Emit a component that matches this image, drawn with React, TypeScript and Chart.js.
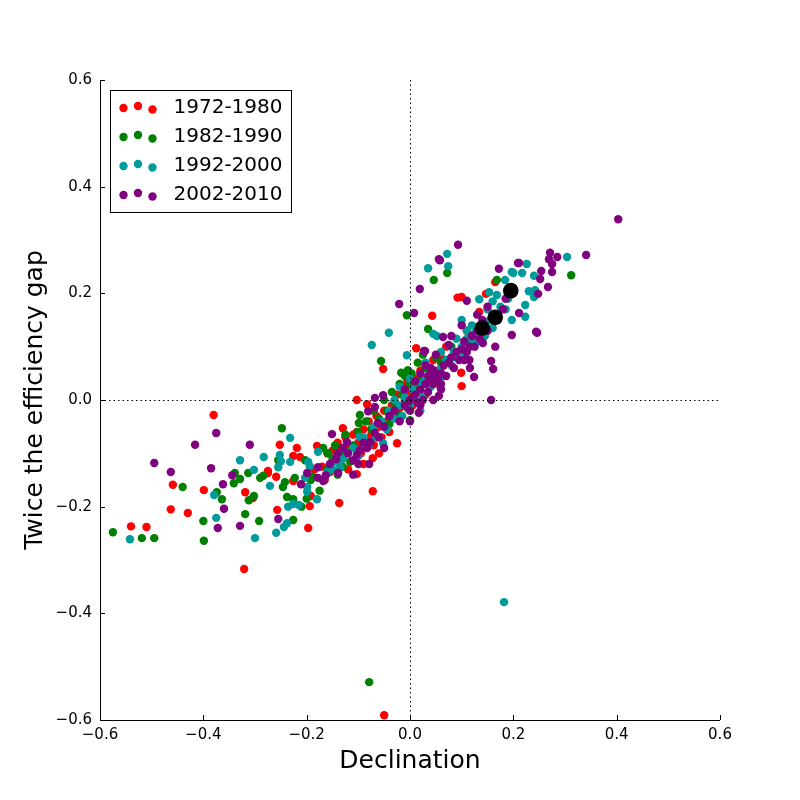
import { useEffect, useRef } from "react";
import { Chart, registerables } from "chart.js";

Chart.register(...registerables);

const FONT = '"DejaVu Sans", sans-serif';

const seriesLabels = ["1972-1980", "1982-1990", "1992-2000", "2002-2010"];
const seriesColors = ["#ff0000", "#008000", "#009b9b", "#800080"];
const axisTicks = [-0.6, -0.4, -0.2, 0, 0.2, 0.4, 0.6];
const xTitle = "Declination";
const yTitle = "Twice the efficiency gap";

// [declination, twice the efficiency gap]
const pts1972: [number, number][] = [
  [-0.54, -0.237], [-0.51, -0.238], [-0.459, -0.159], [-0.463, -0.205], [-0.43, -0.212],
  [-0.38, -0.028], [-0.399, -0.169], [-0.321, -0.317], [-0.319, -0.173], [-0.304, -0.184],
  [-0.275, -0.137], [-0.252, -0.084], [-0.219, -0.09], [-0.226, -0.105], [-0.213, -0.107],
  [-0.275, -0.133], [-0.259, -0.144], [-0.18, -0.086], [-0.135, -0.09], [-0.226, -0.152],
  [-0.192, -0.18], [-0.194, -0.199], [-0.137, -0.193], [-0.257, -0.206], [-0.197, -0.24],
  [-0.072, -0.171], [-0.103, -0.139], [-0.072, -0.109], [-0.103, -0.06], [-0.103, 0.0],
  [-0.083, -0.008], [-0.13, -0.053], [-0.05, -0.591], [-0.025, -0.081],
  [0.1, 0.193], [0.092, 0.192], [0.043, 0.158], [0.012, 0.097], [0.134, 0.165],
  [0.165, 0.221], [0.147, 0.199], [-0.052, 0.058], [0.1, 0.026], [0.099, 0.051],
  [0.07, 0.1], [0.085, 0.085], [0.11, 0.13], [0.06, 0.08],
  [-0.17, -0.125], [-0.16, -0.1], [-0.155, -0.135], [-0.15, -0.095], [-0.145, -0.115],
  [-0.14, -0.08], [-0.13, -0.105], [-0.125, -0.07], [-0.12, -0.09], [-0.115, -0.115],
  [-0.11, -0.065], [-0.1, -0.08], [-0.095, -0.1], [-0.09, -0.055], [-0.085, -0.075],
  [-0.08, -0.04], [-0.075, -0.065], [-0.07, -0.085], [-0.065, -0.03], [-0.06, -0.05],
  [-0.055, -0.07], [-0.05, -0.02], [-0.045, -0.04], [-0.04, -0.06], [-0.035, -0.01],
  [-0.03, -0.03], [-0.025, 0.01], [-0.02, -0.015], [-0.015, 0.025], [-0.01, 0.0],
  [-0.005, 0.035], [0.0, 0.015], [0.005, -0.01], [0.01, 0.04], [0.015, 0.02],
  [0.02, 0.055], [0.025, 0.035], [0.03, 0.01], [0.035, 0.06], [0.04, 0.04],
  [0.045, 0.075], [0.05, 0.055], [0.055, 0.03], [0.065, 0.065], [0.075, 0.075],
  [-0.185, -0.13], [-0.165, -0.15], [-0.12, -0.13], [-0.09, -0.12], [-0.06, -0.1],
];

const pts1982: [number, number][] = [
  [-0.575, -0.248], [-0.519, -0.259], [-0.495, -0.259], [-0.44, -0.163], [-0.399, -0.264],
  [-0.4, -0.227], [-0.374, -0.173], [-0.364, -0.186], [-0.339, -0.137], [-0.341, -0.156],
  [-0.329, -0.148], [-0.313, -0.137], [-0.319, -0.214], [-0.292, -0.227], [-0.312, -0.188],
  [-0.302, -0.18], [-0.29, -0.146], [-0.284, -0.142], [-0.248, -0.053], [-0.255, -0.113],
  [-0.242, -0.154], [-0.246, -0.163], [-0.223, -0.146], [-0.238, -0.182], [-0.226, -0.186],
  [-0.226, -0.225], [-0.168, -0.09], [-0.159, -0.1], [-0.203, -0.113], [-0.188, -0.144],
  [-0.192, -0.15], [-0.12, -0.097], [-0.116, -0.116], [-0.097, -0.028], [-0.099, -0.043],
  [-0.079, -0.529], [-0.056, 0.073], [-0.017, 0.051], [-0.004, 0.056], [0.072, 0.238],
  [0.046, 0.225], [0.035, 0.133], [0.168, 0.225], [-0.006, 0.159], [0.312, 0.234],
  [-0.2, -0.185], [-0.175, -0.17], [-0.21, -0.2],
  [-0.15, -0.11], [-0.145, -0.085], [-0.135, -0.1], [-0.125, -0.065], [-0.11, -0.085],
  [-0.1, -0.06], [-0.09, -0.075], [-0.085, -0.04], [-0.075, -0.055], [-0.07, -0.02],
  [-0.06, -0.035], [-0.05, 0.0], [-0.045, -0.02], [-0.035, 0.015], [-0.03, -0.005],
  [-0.02, 0.03], [-0.015, 0.01], [-0.01, 0.045], [0.0, 0.03], [0.003, 0.05],
  [0.01, 0.02], [0.02, 0.04], [0.03, 0.06], [0.04, 0.05], [0.05, 0.08],
  [0.06, 0.07], [0.08, 0.1], [0.0, -0.038], [-0.005, -0.015], [-0.02, -0.03],
  [-0.13, -0.125], [-0.14, -0.14], [-0.16, -0.13], [0.025, 0.085], [0.015, 0.07],
  [-0.04, -0.045], [-0.065, -0.07],
];

const pts1992: [number, number][] = [
  [-0.542, -0.261], [-0.379, -0.178], [-0.375, -0.221], [-0.329, -0.113], [-0.302, -0.131],
  [-0.283, -0.107], [-0.3, -0.259], [-0.271, -0.161], [-0.232, -0.071], [-0.252, -0.103],
  [-0.25, -0.115], [-0.255, -0.126], [-0.232, -0.116], [-0.197, -0.116], [-0.194, -0.124],
  [-0.203, -0.146], [-0.199, -0.163], [-0.199, -0.172], [-0.236, -0.2], [-0.226, -0.195],
  [-0.215, -0.197], [-0.244, -0.238], [-0.238, -0.231], [-0.259, -0.249], [-0.178, -0.097],
  [-0.18, -0.186], [-0.159, -0.135], [-0.135, -0.126], [-0.141, -0.116], [-0.097, -0.069],
  [-0.052, -0.081], [0.182, -0.379], [-0.041, 0.126], [-0.074, 0.103], [-0.006, 0.084],
  [0.035, 0.247], [0.072, 0.274], [0.074, 0.251], [0.134, 0.189], [0.153, 0.202],
  [0.168, 0.197], [0.184, 0.225], [0.2, 0.238], [0.1, 0.15], [0.045, 0.124],
  [0.304, 0.268], [0.226, 0.255], [0.197, 0.24], [0.217, 0.238], [0.24, 0.233],
  [0.23, 0.204], [0.242, 0.206], [0.24, 0.193], [0.223, 0.178], [0.223, 0.156],
  [0.197, 0.15], [0.052, 0.12],
  [-0.12, -0.1], [-0.11, -0.09], [-0.1, -0.105], [-0.09, -0.07], [-0.08, -0.085],
  [-0.07, -0.05], [-0.065, -0.07], [-0.055, -0.04], [-0.045, -0.055], [-0.04, -0.02],
  [-0.03, -0.035], [-0.02, -0.01], [-0.015, -0.03], [-0.01, 0.005], [0.0, -0.01],
  [0.005, 0.02], [0.01, 0.0], [0.02, 0.03], [0.025, 0.01], [0.03, 0.04],
  [0.04, 0.025], [0.045, 0.055], [0.05, 0.035], [0.06, 0.06], [0.065, 0.045],
  [0.07, 0.075], [0.08, 0.065], [0.085, 0.09], [0.09, 0.08], [0.1, 0.1],
  [0.105, 0.085], [0.11, 0.115], [0.12, 0.105], [0.125, 0.125], [0.13, 0.11],
  [0.14, 0.14], [0.145, 0.12], [0.155, 0.15], [0.16, 0.135], [0.17, 0.16],
  [0.175, 0.175], [0.185, 0.17], [0.19, 0.19], [0.15, 0.17], [0.12, 0.14],
  [0.09, 0.115], [0.06, 0.09], [0.03, 0.07], [-0.02, 0.025], [0.0, 0.04],
  [-0.15, -0.13], [-0.13, -0.11], [0.02, -0.02], [-0.03, 0.0], [0.16, 0.185],
  [0.11, 0.13],
];

const pts2002: [number, number][] = [
  [-0.375, -0.062], [-0.416, -0.084], [-0.495, -0.118], [-0.463, -0.135], [-0.385, -0.128],
  [-0.344, -0.141], [-0.362, -0.158], [-0.31, -0.084], [-0.36, -0.204], [-0.372, -0.24],
  [-0.329, -0.236], [-0.151, -0.064], [-0.255, -0.223], [-0.211, -0.158], [-0.199, -0.137],
  [-0.178, -0.126], [-0.178, -0.146], [-0.163, -0.141], [-0.168, -0.152], [-0.143, -0.111],
  [-0.139, -0.137], [-0.122, -0.079], [-0.11, -0.113], [-0.103, -0.103], [-0.097, -0.094],
  [-0.079, -0.12], [-0.083, -0.09], [-0.077, -0.079], [-0.068, -0.062], [-0.062, -0.043],
  [-0.081, -0.021], [-0.068, -0.013], [-0.068, 0.004], [-0.052, 0.009], [0.029, 0.092],
  [0.064, 0.118], [0.075, 0.103], [0.056, 0.008], [0.017, -0.024], [0.093, 0.291],
  [0.056, 0.264], [0.019, 0.208], [0.172, 0.246], [0.209, 0.257], [0.11, 0.186],
  [-0.021, 0.18], [0.008, 0.163], [0.058, 0.262], [0.027, 0.092], [0.403, 0.339],
  [0.341, 0.272], [0.271, 0.276], [0.285, 0.268], [0.269, 0.264], [0.275, 0.255],
  [0.275, 0.24], [0.254, 0.242], [0.252, 0.227], [0.211, 0.257], [0.267, 0.212],
  [0.248, 0.199], [0.211, 0.163], [0.197, 0.122], [0.244, 0.128], [0.157, 0.0],
  [0.157, 0.073], [0.161, 0.058], [0.124, 0.043], [0.116, 0.06], [0.165, 0.1],
  [0.141, 0.107], [0.246, 0.126],
  [-0.04, -0.03], [-0.03, -0.02], [-0.02, -0.04], [-0.01, -0.01], [0.0, -0.02],
  [0.0, 0.0], [0.01, 0.01], [0.015, -0.005], [0.02, 0.02], [0.025, 0.0],
  [0.03, 0.03], [0.035, 0.015], [0.04, 0.04], [0.045, 0.03], [0.05, 0.05],
  [0.055, 0.035], [0.06, 0.05], [0.065, 0.065], [0.07, 0.045], [0.075, 0.07],
  [0.08, 0.08], [0.085, 0.06], [0.09, 0.09], [0.095, 0.075], [0.1, 0.095],
  [0.105, 0.11], [0.11, 0.09], [0.115, 0.1], [0.12, 0.12], [0.125, 0.1],
  [0.13, 0.13], [0.135, 0.115], [0.14, 0.15], [0.15, 0.13], [0.16, 0.16],
  [0.17, 0.15], [0.18, 0.17], [0.185, 0.19], [0.19, 0.2], [0.2, 0.21],
  [0.15, 0.175], [0.13, 0.16], [0.1, 0.14], [0.08, 0.12], [0.05, 0.085],
  [0.03, 0.065], [0.02, 0.05], [0.01, 0.035], [-0.01, 0.02], [-0.05, -0.05],
  [-0.06, -0.07], [-0.09, -0.08], [-0.1, -0.12], [-0.12, -0.1], [-0.13, -0.09],
  [-0.14, -0.1], [-0.155, -0.12], [-0.11, -0.14], [-0.05, -0.09], [0.0, -0.04],
  [0.02, -0.01], [0.045, 0.0], [0.06, 0.02], [0.035, 0.045], [0.045, 0.055],
  [0.055, 0.045], [0.04, 0.06], [0.06, 0.03], [0.105, 0.075], [0.115, 0.075],
];

// Highlighted plans drawn as large black markers
const highlighted: [number, number][] = [
  [0.14, 0.135], [0.165, 0.155], [0.195, 0.205],
];

const seriesPoints = [pts1972, pts1982, pts1992, pts2002];

const fmtTick = (v: number | string) => {
  const n = Number(v);
  if (Math.abs(n) < 1e-9) return "0.0";
  const s = Math.abs(n).toFixed(1);
  return n < 0 ? "\u2212" + s : s;
};

const framePlugin = {
  id: "frame",
  afterDatasetsDraw(chart: any) {
    const { ctx, chartArea: a, scales } = chart;
    const x0 = Math.round(scales.x.getPixelForValue(0)) + 0.5;
    const y0 = Math.round(scales.y.getPixelForValue(0)) + 0.5;
    ctx.save();
    ctx.strokeStyle = "#000";
    ctx.lineWidth = 1;
    ctx.setLineDash([1.5, 3]);
    ctx.beginPath();
    ctx.moveTo(x0, a.top);
    ctx.lineTo(x0, a.bottom);
    ctx.moveTo(a.left, y0);
    ctx.lineTo(a.right, y0);
    ctx.stroke();
    ctx.restore();
  },
  afterDraw(chart: any) {
    const { ctx, chartArea: a, scales } = chart;
    ctx.save();
    // spines
    ctx.strokeStyle = "#000";
    ctx.lineWidth = 1;
    ctx.setLineDash([]);
    ctx.beginPath();
    ctx.moveTo(a.left + 0.5, a.top);
    ctx.lineTo(a.left + 0.5, a.bottom + 0.5);
    ctx.lineTo(a.right, a.bottom + 0.5);
    ctx.stroke();
    // inward tick marks
    ctx.beginPath();
    axisTicks.forEach((v) => {
      const px = Math.round(scales.x.getPixelForValue(v)) + 0.5;
      ctx.moveTo(px, a.bottom);
      ctx.lineTo(px, a.bottom - 5);
      const py = Math.round(scales.y.getPixelForValue(v)) + 0.5;
      ctx.moveTo(a.left, py);
      ctx.lineTo(a.left + 5, py);
    });
    ctx.stroke();

    // axis titles
    ctx.fillStyle = "#000";
    ctx.font = `25px ${FONT}`;
    ctx.textAlign = "center";
    ctx.textBaseline = "middle";
    ctx.fillText(xTitle, (a.left + a.right) / 2, 761);
    ctx.save();
    ctx.translate(35, (a.top + a.bottom) / 2);
    ctx.rotate(-Math.PI / 2);
    ctx.fillText(yTitle, 0, 0);
    ctx.restore();

    // legend
    const lx = a.left + 10.5;
    const ly = a.top + 10.5;
    ctx.fillStyle = "#fff";
    ctx.fillRect(lx, ly, 181, 122);
    ctx.strokeStyle = "#000";
    ctx.strokeRect(lx, ly, 181, 122);
    const dx = [13, 27.5, 42];
    const dy = [1.5, -0.5, 3];
    seriesLabels.forEach((lab, i) => {
      const cy = ly + 16 + i * 29;
      ctx.fillStyle = seriesColors[i];
      dx.forEach((d, k) => {
        ctx.beginPath();
        ctx.arc(lx + d, cy + dy[k], 4.2, 0, Math.PI * 2);
        ctx.fill();
      });
      ctx.fillStyle = "#000";
      ctx.font = `20px ${FONT}`;
      ctx.textAlign = "left";
      ctx.textBaseline = "middle";
      ctx.fillText(lab, lx + 63, cy + 1);
    });
    ctx.restore();
  },
};

export default function App() {
  const canvasRef = useRef<HTMLCanvasElement | null>(null);

  useEffect(() => {
    if (!canvasRef.current) return;
    const datasets: any[] = seriesPoints.map((pts, i) => ({
      label: seriesLabels[i],
      data: pts.map(([x, y]) => ({ x, y })),
      backgroundColor: seriesColors[i],
      borderWidth: 0,
      pointRadius: 4.2,
      order: 5 - i,
    }));
    datasets.push({
      label: "highlight",
      data: highlighted.map(([x, y]) => ({ x, y })),
      backgroundColor: "#000",
      borderWidth: 0,
      pointRadius: 7.8,
      order: 0,
    });

    const tickFont = { family: FONT, size: 15 };
    const chart = new Chart(canvasRef.current, {
      type: "scatter",
      data: { datasets },
      plugins: [framePlugin],
      options: {
        animation: false,
        responsive: false,
        events: [],
        layout: { padding: { top: 80, right: 80, left: 0, bottom: 0 } },
        plugins: { legend: { display: false }, tooltip: { enabled: false } },
        scales: {
          x: {
            type: "linear",
            min: -0.6,
            max: 0.6,
            grid: { display: false, drawTicks: false },
            border: { display: false },
            afterFit: (s: any) => { s.height = 80; },
            afterBuildTicks: (s: any) => { s.ticks = axisTicks.map((value) => ({ value })); },
            ticks: { autoSkip: false, maxRotation: 0, padding: 6, color: "#000", font: tickFont, callback: fmtTick },
          },
          y: {
            type: "linear",
            min: -0.6,
            max: 0.6,
            grid: { display: false, drawTicks: false },
            border: { display: false },
            afterFit: (s: any) => { s.width = 100; },
            afterBuildTicks: (s: any) => { s.ticks = axisTicks.map((value) => ({ value })); },
            ticks: { autoSkip: false, padding: 8, color: "#000", font: tickFont, callback: fmtTick },
          },
        },
      } as any,
    });
    return () => chart.destroy();
  }, []);

  return (
    <div style={{ position: "absolute", left: 0, top: 0, width: 800, height: 800, background: "#fff" }}>
      <canvas ref={canvasRef} width={800} height={800} />
    </div>
  );
}
